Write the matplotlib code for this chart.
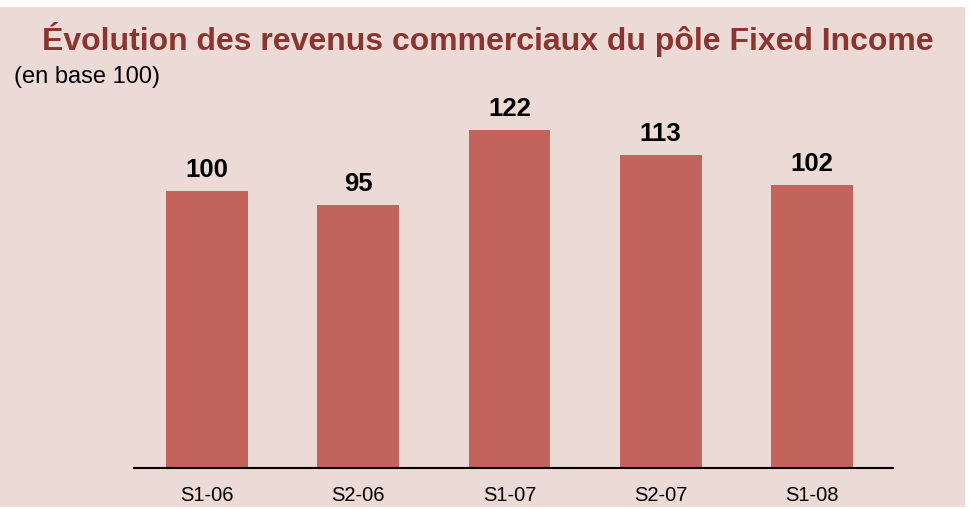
import matplotlib.pyplot as plt
from matplotlib.patches import Rectangle

# data
periods = ['S1-06', 'S2-06', 'S1-07', 'S2-07', 'S1-08']
values = [100, 95, 122, 113, 102]

bg_color = '#EBDAD6'
bar_color = '#C2645B'
title_color = '#8B3530'

plt.rcParams['font.family'] = ['Liberation Sans', 'DejaVu Sans']

fig = plt.figure(figsize=(9.72, 5.10), dpi=100)
fig.patch.set_facecolor('white')
# pink panel behind the chart
fig.patches.append(Rectangle((0, 2 / 510), 965 / 972, 500 / 510,
                             transform=fig.transFigure, facecolor=bg_color,
                             edgecolor='none', zorder=-10))

ax = fig.add_axes([134 / 972, 1 - 469 / 510, (893 - 134) / 972, 387.8 / 510])
ax.set_facecolor('none')
ax.set_zorder(5)

x = list(range(len(periods)))
ax.bar(x, values, width=0.54, color=bar_color, zorder=2)

for xi, v in zip(x, values):
    ax.text(xi, v + 3.6, str(v), ha='center', va='bottom',
            fontsize=18.5, fontweight='bold', color='black')

ax.set_xlim(-0.483, 4.536)
ax.set_ylim(0, 140)
ax.set_xticks(x)
ax.set_xticklabels(periods, fontsize=14.5)
ax.tick_params(axis='x', length=0, pad=12)
ax.set_yticks([])
for side in ['top', 'right', 'left']:
    ax.spines[side].set_visible(False)
ax.spines['bottom'].set_linewidth(1.5)
ax.spines['bottom'].set_color('black')

fig.text(488 / 972, 1 - 40 / 510, 'Évolution des revenus commerciaux du pôle Fixed Income',
         ha='center', va='center', fontsize=23, fontweight='bold', color=title_color)
fig.text(14 / 972, 1 - 77 / 510, '(en base 100)', ha='left', va='center',
         fontsize=17, color='black')

fig.savefig('out.png', dpi=100, facecolor=fig.get_facecolor())
